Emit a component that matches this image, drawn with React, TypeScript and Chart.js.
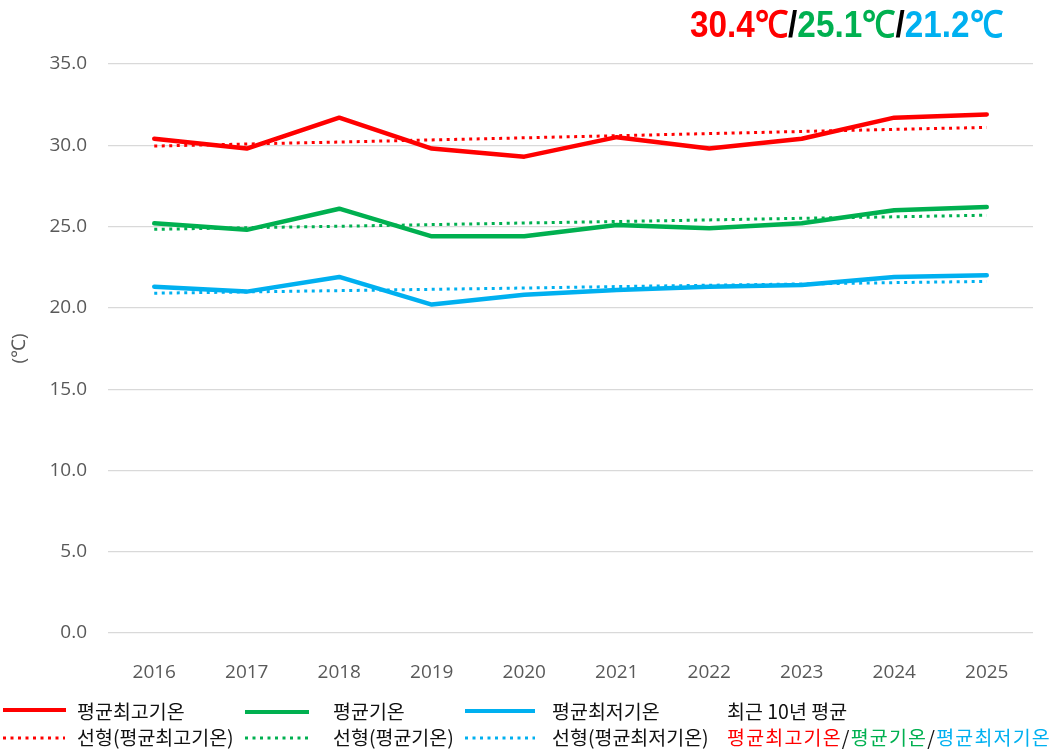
import React, { useEffect, useRef } from "react";
import { Chart, registerables } from "chart.js";

Chart.register(...registerables);

const years = ["2016", "2017", "2018", "2019", "2020", "2021", "2022", "2023", "2024", "2025"];
const maxTemp = [30.4, 29.8, 31.7, 29.8, 29.3, 30.5, 29.8, 30.4, 31.7, 31.9];
const avgTemp = [25.2, 24.8, 26.1, 24.4, 24.4, 25.1, 24.9, 25.2, 26.0, 26.2];
const minTemp = [21.3, 21.0, 21.9, 20.2, 20.8, 21.1, 21.3, 21.4, 21.9, 22.0];
const maxTrend = [29.95, 30.08, 30.2, 30.33, 30.46, 30.59, 30.72, 30.85, 30.98, 31.1];
const avgTrend = [24.83, 24.93, 25.02, 25.12, 25.22, 25.31, 25.41, 25.51, 25.6, 25.7];
const minTrend = [20.9, 20.98, 21.06, 21.14, 21.22, 21.31, 21.39, 21.47, 21.55, 21.63];
const yTicks = [0, 5, 10, 15, 20, 25, 30, 35];
const summary = ["30.4℃", "25.1℃", "21.2℃"];

const RED = "#FF0000";
const GREEN = "#00B050";
const BLUE = "#00B0F0";
const KFONT = "'Noto Sans CJK KR', 'Noto Sans', sans-serif";

function Swatch({ x, y, w, color, dotted }: { x: number; y: number; w: number; color: string; dotted?: boolean }) {
  return (
    <svg style={{ position: "absolute", left: x, top: y - 4, width: w, height: 8 }} width={w} height={8}>
      <line
        x1={0}
        y1={4}
        x2={w}
        y2={4}
        stroke={color}
        strokeWidth={dotted ? 3 : 4}
        strokeDasharray={dotted ? "3 4.5" : undefined}
      />
    </svg>
  );
}

function Label({ x, y, spacing, children }: { x: number; y: number; spacing?: number; children: React.ReactNode }) {
  return (
    <div
      style={{
        position: "absolute",
        left: x,
        top: y - 13,
        height: 26,
        lineHeight: "26px",
        fontFamily: KFONT,
        fontSize: 19.5,
        color: "#111",
        whiteSpace: "nowrap",
        letterSpacing: spacing ? spacing : 0,
      }}
    >
      {children}
    </div>
  );
}

export default function App() {
  const ref = useRef<HTMLCanvasElement | null>(null);

  useEffect(() => {
    if (!ref.current) return;
    const mk = (label: string, data: number[], color: string, dotted: boolean) => ({
      label,
      data,
      borderColor: color,
      backgroundColor: color,
      borderWidth: dotted ? 3 : 4.5,
      borderDash: dotted ? [3, 4.5] : [],
      borderCapStyle: dotted ? "butt" : "round",
      borderJoinStyle: "round",
      pointRadius: 0,
      tension: 0,
      fill: false,
    });
    const chart = new Chart(ref.current, {
      type: "line",
      data: {
        labels: years,
        datasets: [
          mk("평균최고기온", maxTemp, RED, false),
          mk("평균기온", avgTemp, GREEN, false),
          mk("평균최저기온", minTemp, BLUE, false),
          mk("선형(평균최고기온)", maxTrend, RED, true),
          mk("선형(평균기온)", avgTrend, GREEN, true),
          mk("선형(평균최저기온)", minTrend, BLUE, true),
        ] as any,
      },
      options: {
        animation: false,
        responsive: false,
        maintainAspectRatio: false,
        layout: { padding: { left: 0, right: 22, top: 64, bottom: 67 } },
        plugins: { legend: { display: false }, tooltip: { enabled: false } },
        scales: {
          x: {
            offset: true,
            grid: { display: false },
            border: { display: false },
            ticks: {
              color: "#595959",
              font: { family: "'Open Sans', 'Noto Sans', sans-serif", size: 19 },
              padding: 20,
            },
            afterFit: (s: any) => {
              s.height = 50;
            },
          },
          y: {
            min: 0,
            max: 35,
            afterBuildTicks: (s: any) => {
              s.ticks = yTicks.map((v) => ({ value: v }));
            },
            grid: { color: "#D9D9D9", lineWidth: 1.2, drawTicks: false },
            border: { display: false },
            ticks: {
              color: "#595959",
              font: { family: "'Open Sans', 'Noto Sans', sans-serif", size: 19 },
              padding: 21,
              callback: (v: any) => Number(v).toFixed(1),
            },
            title: {
              display: true,
              text: "(℃)",
              color: "#595959",
              font: { family: "'Open Sans', 'Noto Sans', sans-serif", size: 19 },
              padding: { top: 8, bottom: 0 },
            },
            afterFit: (s: any) => {
              s.width = 108;
            },
          },
        },
      } as any,
    });
    return () => chart.destroy();
  }, []);

  return (
    <div style={{ position: "fixed", left: 0, top: 0, width: 1055, height: 750, background: "#fff", overflow: "hidden" }}>
      <canvas ref={ref} width={1055} height={750} style={{ position: "absolute", left: 0, top: 0 }} />
      <div
        style={{
          position: "absolute",
          left: 690,
          top: 1,
          fontFamily: "'Liberation Sans Narrow', 'Liberation Sans', sans-serif",
          fontWeight: "bold",
          fontSize: 37,
          lineHeight: "48px",
          whiteSpace: "nowrap",
          transform: "scaleX(0.9)",
          transformOrigin: "left top",
        }}
      >
        <span style={{ color: RED }}>{summary[0]}</span>
        <span style={{ color: "#000" }}>/</span>
        <span style={{ color: GREEN }}>{summary[1]}</span>
        <span style={{ color: "#000" }}>/</span>
        <span style={{ color: BLUE }}>{summary[2]}</span>
      </div>

      <Swatch x={3} y={710} w={63} color={RED} />
      <Label x={77} y={711}>평균최고기온</Label>
      <Swatch x={3} y={738} w={62} color={RED} dotted />
      <Label x={77} y={737}>선형(평균최고기온)</Label>

      <Swatch x={245} y={712} w={64} color={GREEN} />
      <Label x={333} y={711}>평균기온</Label>
      <Swatch x={245} y={738} w={64} color={GREEN} dotted />
      <Label x={333} y={737}>선형(평균기온)</Label>

      <Swatch x={465} y={711} w={70} color={BLUE} />
      <Label x={552} y={711}>평균최저기온</Label>
      <Swatch x={465} y={738} w={70} color={BLUE} dotted />
      <Label x={552} y={737}>선형(평균최저기온)</Label>

      <Label x={727} y={711}>최근 10년 평균</Label>
      <Label x={727} y={737} spacing={1.2}>
        <span style={{ color: RED }}>평균최고기온</span>
        <span>/</span>
        <span style={{ color: GREEN }}>평균기온</span>
        <span>/</span>
        <span style={{ color: BLUE }}>평균최저기온</span>
      </Label>
    </div>
  );
}
